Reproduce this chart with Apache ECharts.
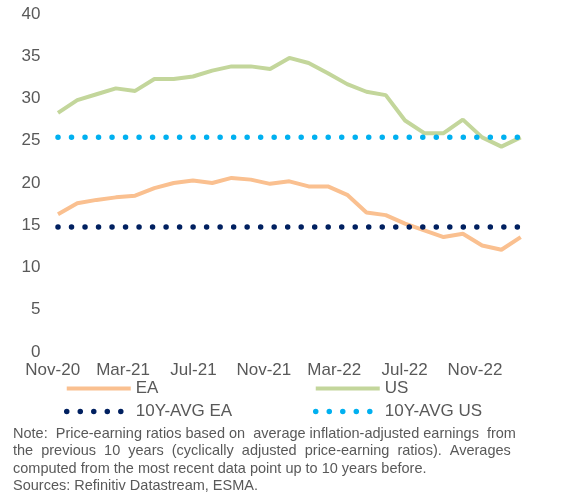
<!DOCTYPE html>
<html>
<head>
<meta charset="utf-8">
<script src="https://cdn.jsdelivr.net/npm/echarts@6/dist/echarts.min.js"></script>
<style>
  html, body { margin: 0; padding: 0; background: #fff; }
  #chart { width: 572px; height: 497px; }
</style>
</head>
<body>
<div id="chart"></div>
<script>
// monthly observations
const months = ['Nov-20', 'Dec-20', 'Jan-21', 'Feb-21', 'Mar-21', 'Apr-21', 'May-21', 'Jun-21', 'Jul-21',
  'Aug-21', 'Sep-21', 'Oct-21', 'Nov-21', 'Dec-21', 'Jan-22', 'Feb-22', 'Mar-22', 'Apr-22', 'May-22',
  'Jun-22', 'Jul-22', 'Aug-22', 'Sep-22', 'Oct-22', 'Nov-22']
const eaValues = [16.3, 17.6, 18.0, 18.3, 18.5, 19.4, 20.0, 20.3, 20.0, 20.6, 20.4, 19.9, 20.2,
  19.6, 19.6, 18.6, 16.5, 16.2, 15.2, 14.4, 13.6, 14.0, 12.6, 12.1, 13.6]
const usValues = [28.3, 29.8, 30.5, 31.2, 30.9, 32.3, 32.3, 32.6, 33.3, 33.8, 33.8, 33.5, 34.8,
  34.2, 33.0, 31.7, 30.8, 30.4, 27.4, 25.9, 25.9, 27.5, 25.4, 24.3, 25.4]
const avgEA = 14.8
const avgUS = 25.4
// axis tick labels (shown on their own scale, as in the source chart)
const xTickLabels = ['Nov-20', 'Mar-21', 'Jul-21', 'Nov-21', 'Mar-22', 'Jul-22', 'Nov-22']

// extra spaces stand in for the justified lines of the source
const note = 'Note:  Price-earning ratios based on  average inflation-adjusted earnings  from\n' +
  'the  previous  10  years  (cyclically  adjusted  price-earning  ratios).  Averages\n' +
  'computed from the most recent data point up to 10 years before.\n' +
  'Sources: Refinitiv Datastream, ESMA.'

const grey = '#595959'
const font = 'Liberation Sans, Arial, sans-serif'
const dots = { type: [0.01, 13.5], cap: 'round', width: 5.5 }

const legendBase = {
  orient: 'vertical', top: 380, padding: 0, itemWidth: 64, itemHeight: 14, itemGap: 6,
  lineStyle: { width: 'inherit' },
  itemStyle: { opacity: 0 },
  textStyle: { fontSize: 17, color: grey }
}

const chart = echarts.init(document.getElementById('chart'))
chart.setOption({
  animation: false,
  textStyle: { fontFamily: font },
  title: {
    text: note,
    left: 13,
    top: 425,
    padding: 0,
    textStyle: { fontSize: 14.5, fontWeight: 'normal', color: grey, lineHeight: 17.4, fontFamily: font }
  },
  grid: [
    { left: 58, right: 51.3, top: 14, bottom: 145 },
    { left: 52.7, right: 97, top: 14, bottom: 145 }
  ],
  xAxis: [
    {
      type: 'category', data: months, boundaryGap: false, gridIndex: 0,
      axisLine: { show: false }, axisTick: { show: false }, axisLabel: { show: false }
    },
    {
      type: 'value', gridIndex: 1, min: 0, max: xTickLabels.length - 1, interval: 1,
      axisLine: { show: false }, axisTick: { show: false }, splitLine: { show: false },
      axisLabel: { fontSize: 17, color: grey, margin: 10, formatter: v => xTickLabels[v] || '' }
    }
  ],
  yAxis: [
    {
      type: 'value', gridIndex: 0, min: 0, max: 40, interval: 5,
      axisLine: { show: false }, axisTick: { show: false }, splitLine: { show: false },
      axisLabel: { fontSize: 17, color: grey, margin: 17.5 }
    },
    { type: 'value', gridIndex: 1, min: 0, max: 40, show: false }
  ],
  legend: [
    { ...legendBase, left: 64, data: ['EA', '10Y-AVG EA'] },
    { ...legendBase, left: 313, data: ['US', '10Y-AVG US'] }
  ],
  series: [
    {
      name: 'EA', type: 'line', data: eaValues, symbol: 'none',
      lineStyle: { color: '#FAC090', width: 4 }, itemStyle: { color: '#FAC090' }
    },
    {
      name: 'US', type: 'line', data: usValues, symbol: 'none',
      lineStyle: { color: '#C3D69B', width: 4 }, itemStyle: { color: '#C3D69B' }
    },
    {
      name: '10Y-AVG EA', type: 'line', symbol: 'none',
      data: [[months[0], avgEA], [months[months.length - 1], avgEA]],
      lineStyle: { color: '#002060', ...dots }, itemStyle: { color: '#002060' }
    },
    {
      name: '10Y-AVG US', type: 'line', symbol: 'none',
      data: [[months[0], avgUS], [months[months.length - 1], avgUS]],
      lineStyle: { color: '#00B0F0', ...dots }, itemStyle: { color: '#00B0F0' }
    }
  ]
})
</script>
</body>
</html>
